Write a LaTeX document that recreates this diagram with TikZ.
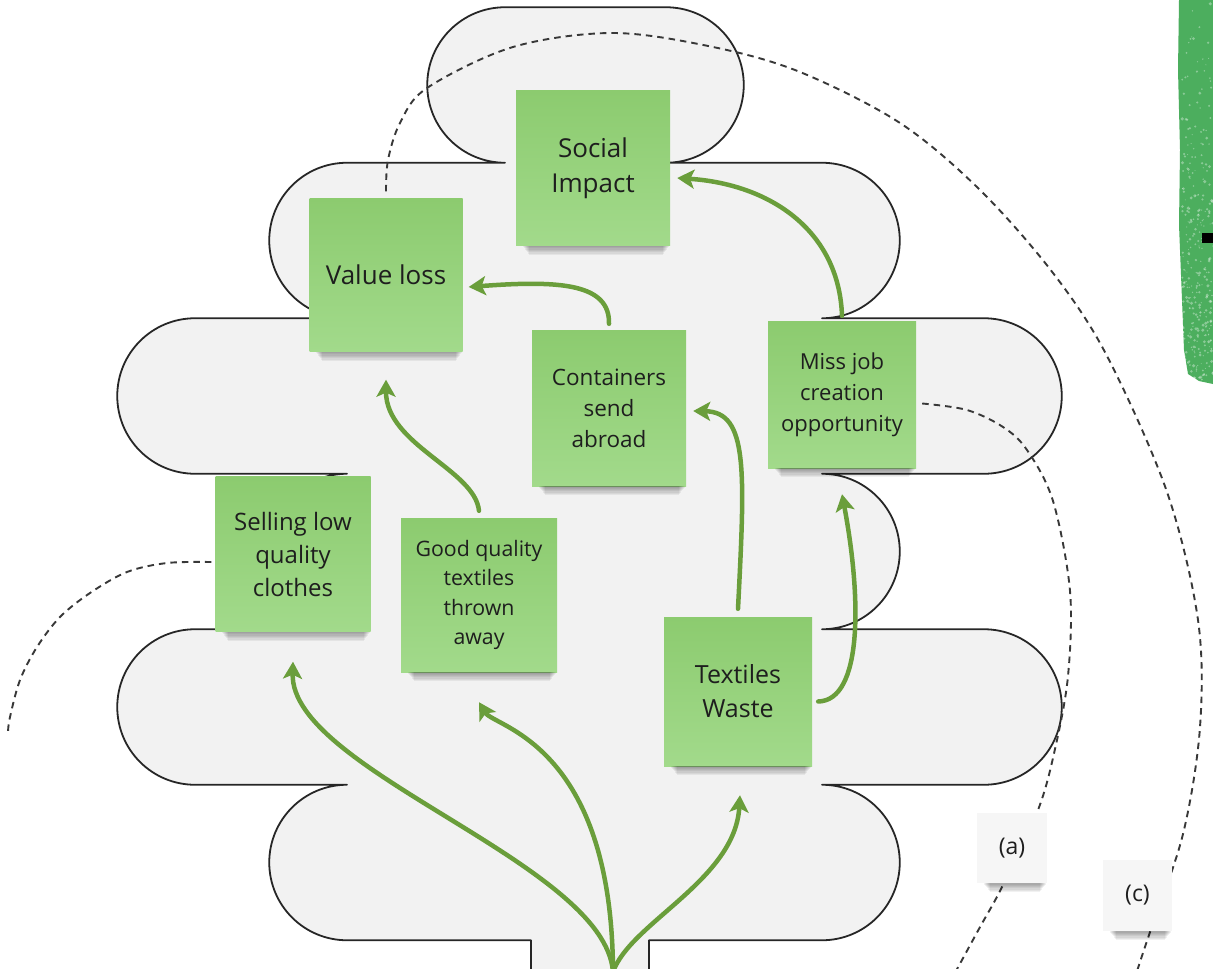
\documentclass[tikz,border=0pt]{standalone}
\usepackage{fontspec}
\setmainfont{Open Sans}
\usetikzlibrary{arrows.meta}

\definecolor{notetop}{HTML}{8CCB6F}
\definecolor{notebottom}{HTML}{A2DA8B}
\definecolor{arrowgreen}{HTML}{6A9E3B}
\definecolor{treefill}{HTML}{F2F2F2}
\definecolor{dashgray}{HTML}{383838}
\definecolor{patchgreen}{HTML}{4CAE5E}
\definecolor{paper}{HTML}{F6F6F6}
\definecolor{inktext}{HTML}{1E1E1E}

\tikzset{
  stickynote/.style={top color=notetop, bottom color=notebottom, draw=none,
    align=center, inner sep=0pt, text=inktext},
  papernote/.style={fill=paper, draw=none, align=center, inner sep=0pt,
    minimum width=70pt, minimum height=70pt, text=inktext,
    font=\fontsize{23}{28}\selectfont},
  link/.style={arrowgreen, line width=4.5pt, line cap=round,
    -{Stealth[length=17pt,width=19pt,inset=4pt]}},
  dashline/.style={dashgray, line width=1.9pt, dash pattern=on 6.5pt off 5pt},
  treeline/.style={black!85, line width=1.8pt, line join=round},
}

% half height of one lobe row of the tree crown
\def\rowr{77.75}
\newcommand\crownpath{(531,969) -- (531,940.25) -- (347,940.25)
  arc[start angle=90,end angle=270,radius=\rowr] -- (195,784.75)
  arc[start angle=90,end angle=270,radius=\rowr] -- (347,629.25)
  arc[start angle=90,end angle=270,radius=\rowr] -- (195,473.75)
  arc[start angle=90,end angle=270,radius=\rowr] -- (347,318.25)
  arc[start angle=90,end angle=270,radius=\rowr] -- (505,162.75)
  arc[start angle=90,end angle=270,radius=\rowr] -- (666,7.25)
  arc[start angle=-90,end angle=90,radius=\rowr] -- (822,162.75)
  arc[start angle=-90,end angle=90,radius=\rowr] -- (984,318.25)
  arc[start angle=-90,end angle=90,radius=\rowr] -- (822,473.75)
  arc[start angle=-90,end angle=90,radius=\rowr] -- (984,629.25)
  arc[start angle=-90,end angle=90,radius=\rowr] -- (822,784.75)
  arc[start angle=-90,end angle=90,radius=\rowr] -- (649,940.25) -- (649,969)}

% soft shadow along the lower edge of a note
\newcommand\noteshadow[1]{%
  \foreach \k in {1,...,7}{%
    \fill[black,opacity=0.055] ([xshift={6pt+1pt*\k}]#1.south west)
      rectangle ([xshift={-1pt*\k},yshift={-1.3pt*\k}]#1.south east);}}

\begin{document}
\begin{tikzpicture}[x=1pt,y=-1pt]
\useasboundingbox (0,0) rectangle (1213,969);
\fill[white] (0,0) rectangle (1213,969);

% painted green strip at the right edge
\fill[patchgreen] (1179,0) -- (1178,70) -- (1180,150) -- (1179,225)
  -- (1182,300) -- (1184,350) -- (1188,374) -- (1199,381) -- (1213,384)
  -- (1213,0) -- cycle;
\pgfmathsetseed{11}
\foreach \i in {1,...,320}{
  \pgfmathsetmacro\py{380*sqrt(rnd)}
  \fill[white,opacity=0.35] ({1182+rnd*31},\py) circle ({0.5+rnd*1.2});
}
\fill[black] (1202,233) rectangle (1213,243);

% tree crown
\fill[treefill] \crownpath -- cycle;
\draw[treeline] \crownpath;

% sticky notes
\node[stickynote, minimum width=154pt, minimum height=155pt,
  font=\fontsize{26}{35}\selectfont] (si) at (593,168) {Social\\Impact};
\node[stickynote, minimum width=153pt, minimum height=153pt,
  font=\fontsize{26}{35}\selectfont] (vl) at (386,275) {Value loss};
\node[stickynote, minimum width=154pt, minimum height=156pt,
  font=\fontsize{22.5}{31}\selectfont] (cs) at (609,408) {Containers\\send\\abroad};
\node[stickynote, minimum width=148pt, minimum height=147pt,
  font=\fontsize{22}{31}\selectfont] (mj) at (842,394.5) {Miss job\\creation\\opportunity};
\node[stickynote, minimum width=155pt, minimum height=155pt,
  font=\fontsize{24}{33}\selectfont] (sl) at (293,554) {Selling low\\quality\\clothes};
\node[stickynote, minimum width=156pt, minimum height=154pt,
  font=\fontsize{21.3}{29.5}\selectfont] (gq) at (479,595) {Good quality\\textiles\\thrown\\away};
\node[stickynote, minimum width=148pt, minimum height=149pt,
  font=\fontsize{25}{34}\selectfont] (tw) at (738,691.5) {Textiles\\Waste};

\foreach \n in {si,vl,cs,mj,sl,gq,tw}{\noteshadow{\n}}

% free ends of the dashed boundaries and the root of the arrows
\coordinate (d1a) at ([yshift=7pt]vl.north);
\coordinate (d1z) at (1137,971);
\coordinate (d2a) at ([xshift=6pt,yshift=-9pt]mj.east);
\coordinate (d2z) at (956,971);
\coordinate (d3a) at ([xshift=-4pt,yshift=-8pt]sl.west);
\coordinate (d3z) at (8,732);
\coordinate (root) at (613,972);

% dashed boundaries
\draw[dashline] plot[smooth,tension=0.55] coordinates {(d1a) (388,160) (400,123)
  (427,88) (513,47) (613,33) (713,47) (800,72) (900,123) (980,190) (1053,273)
  (1107,356) (1167,492) (1198,620) (1200,727) (1183,834) (1150,932) (d1z)};
\draw[dashline] plot[smooth,tension=0.55] coordinates {(d2a) (967,410) (1003,427)
  (1027,450) (1053,501) (1070,591) (1068,676) (1055,749) (1038,810) (1002,887)
  (980,927) (d2z)};
\draw[dashline] plot[smooth,tension=0.55] coordinates {(d3a) (167,563) (127,572)
  (90,593) (60,617) (37,647) (20,680) (10,717) (d3z)};

% cause and effect arrows
\draw[link] ([yshift=5pt]mj.north) .. controls +(-3,-86) and +(92,6)
  .. ([xshift=7pt,yshift=-10pt]si.east);
\draw[link] ([yshift=6pt]cs.north) .. controls +(1,-40) and +(92,-7)
  .. ([xshift=6pt,yshift=-12pt]vl.east);
\draw[link] ([yshift=7pt]gq.north) .. controls +(-4,-41) and +(0,65)
  .. ([yshift=-28pt]vl.south);
\draw[link] ([yshift=8pt]tw.north) .. controls +(7,-139) and +(55,1)
  .. ([xshift=7pt,yshift=-3pt]cs.east);
\draw[link] ([xshift=6pt,yshift=-10pt]tw.east) .. controls +(44,-1) and +(20,106)
  .. ([yshift=-26pt]mj.south);
\draw[link] (root) .. controls +(-8,-109) and +(-3,109) .. ([yshift=-30pt]sl.south);
\draw[link] (root) .. controls +(-1,-229) and +(15,25) .. ([yshift=-30pt]gq.south);
\draw[link] (root) .. controls +(17,-49) and +(-5,85) .. ([xshift=2pt,yshift=-29pt]tw.south);

% paper labels
\node[papernote] (na) at (1012,848) {(a)};
\node[papernote, minimum width=69pt, minimum height=71pt] (nc) at (1137.5,895.5) {(c)};
\noteshadow{na}
\noteshadow{nc}
\end{tikzpicture}
\end{document}
